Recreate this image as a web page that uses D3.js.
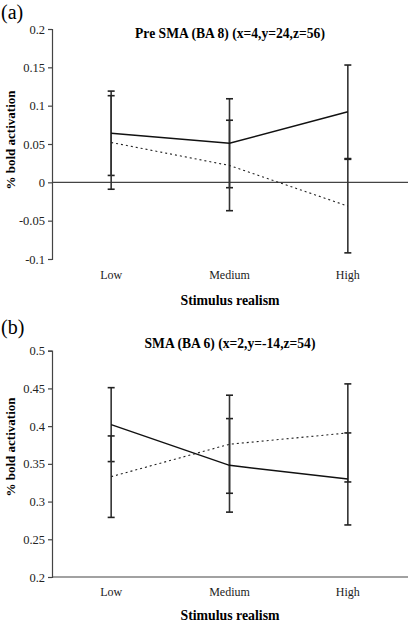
<!DOCTYPE html>
<html><head><meta charset="utf-8">
<script src="https://cdn.jsdelivr.net/npm/d3@7"></script>
<style>body{margin:0;background:#fff}svg{display:block}</style>
</head><body>
<svg id="c" width="410" height="623"></svg>
<script>
const categories = ["Low", "Medium", "High"];
// Panel (a) Pre SMA
const aTicks = [-0.1, -0.05, 0, 0.05, 0.1, 0.15, 0.2];
const aTickLabels = ["-0.1", "-0.05", "0", "0.05", "0.1", "0.15", "0.2"];
const aSolid = [0.064, 0.051, 0.092];
const aSolidErr = [0.055, 0.058, 0.061];
const aDotted = [0.052, 0.022, -0.031];
const aDottedErr = [0.061, 0.059, 0.061];
// Panel (b) SMA
const bTicks = [0.2, 0.25, 0.3, 0.35, 0.4, 0.45, 0.5];
const bTickLabels = ["0.2", "0.25", "0.3", "0.35", "0.4", "0.45", "0.5"];
const bSolid = [0.402, 0.348, 0.330];
const bSolidErr = [0.049, 0.062, 0.061];
const bDotted = [0.333, 0.376, 0.391];
const bDottedErr = [0.054, 0.065, 0.065];

const FONT = '"Liberation Serif"';
const svg = d3.select("#c");

function txt(g) {
  return g.append("text").style("font-family", FONT);
}

function panel(o) {
  const g = svg.append("g");
  const x = d3.scalePoint().domain(categories).range([52, 407]).padding(0.5);
  const y = d3.scaleLinear().domain([o.ticks[0], o.ticks[o.ticks.length-1]]).range([o.bottom, o.top]);

  txt(g).attr("x", 1).attr("y", o.letterY).style("font-size", "20px").text(o.letter);
  txt(g).attr("x", 230).attr("y", o.titleY).attr("text-anchor", "middle")
    .style("font-size", "13.6px").style("font-weight", "bold").text(o.title);

  const ya = d3.axisLeft(y).tickValues(o.ticks).tickFormat((d,i) => o.tickLabels[i]).tickSize(4).tickPadding(3);
  const yg = g.append("g").attr("transform", "translate(52,0)").call(ya);
  yg.select(".domain").attr("stroke", "#444").attr("stroke-width", 1.2);
  yg.selectAll(".tick line").attr("stroke", "#444").attr("stroke-width", 1.2);
  yg.selectAll(".tick text").style("font-size", "12.5px").attr("fill", "#222")
    .style("font-family", FONT);

  g.append("line").attr("x1", 52).attr("x2", 408)
    .attr("y1", y(o.crossAt)).attr("y2", y(o.crossAt)).attr("stroke", "#444").attr("stroke-width", 1.2);

  categories.forEach(c => {
    txt(g).attr("x", x(c)).attr("y", o.catY).attr("text-anchor", "middle")
      .style("font-size", "12px").attr("fill", "#222").text(c);
  });
  txt(g).attr("x", 230).attr("y", o.xlabY).attr("text-anchor", "middle")
    .style("font-size", "13.8px").style("font-weight", "bold").text("Stimulus realism");
  txt(g).attr("transform", `translate(15,${o.ylabC}) rotate(-90)`)
    .attr("text-anchor", "middle").style("font-size", "13px").style("font-weight", "bold").text("% bold activation");

  function errs(vals, e) {
    categories.forEach((c, i) => {
      const cx = x(c);
      g.append("line").attr("x1", cx).attr("x2", cx)
        .attr("y1", y(vals[i] - e[i])).attr("y2", y(vals[i] + e[i]))
        .attr("stroke", "#333").attr("stroke-width", 1.6);
      [vals[i] - e[i], vals[i] + e[i]].forEach(v => {
        g.append("line").attr("x1", cx - 3.5).attr("x2", cx + 3.5)
          .attr("y1", y(v)).attr("y2", y(v)).attr("stroke", "#222").attr("stroke-width", 1.6);
      });
    });
  }
  errs(o.solid, o.solidErr);
  errs(o.dotted, o.dottedErr);

  const line = d3.line().x((d, i) => x(categories[i])).y(d => y(d));
  g.append("path").datum(o.dotted).attr("d", line).attr("fill", "none")
    .attr("stroke", "#222").attr("stroke-width", 1.1).attr("stroke-dasharray", "2,3");
  g.append("path").datum(o.solid).attr("d", line).attr("fill", "none")
    .attr("stroke", "#111").attr("stroke-width", 1.5);
}

panel({letter: "(a)", letterY: 19, title: "Pre SMA (BA 8) (x=4,y=24,z=56)", titleY: 38,
  ticks: aTicks, tickLabels: aTickLabels, top: 29, bottom: 259, crossAt: 0, ylabC: 140,
  solid: aSolid, solidErr: aSolidErr, dotted: aDotted, dottedErr: aDottedErr,
  catY: 279, xlabY: 305});
panel({letter: "(b)", letterY: 334, title: "SMA (BA 6) (x=2,y=-14,z=54)", titleY: 348,
  ticks: bTicks, tickLabels: bTickLabels, top: 350.7, bottom: 577, crossAt: 0.2, ylabC: 447,
  solid: bSolid, solidErr: bSolidErr, dotted: bDotted, dottedErr: bDottedErr,
  catY: 596, xlabY: 620});
</script>
</body></html>
